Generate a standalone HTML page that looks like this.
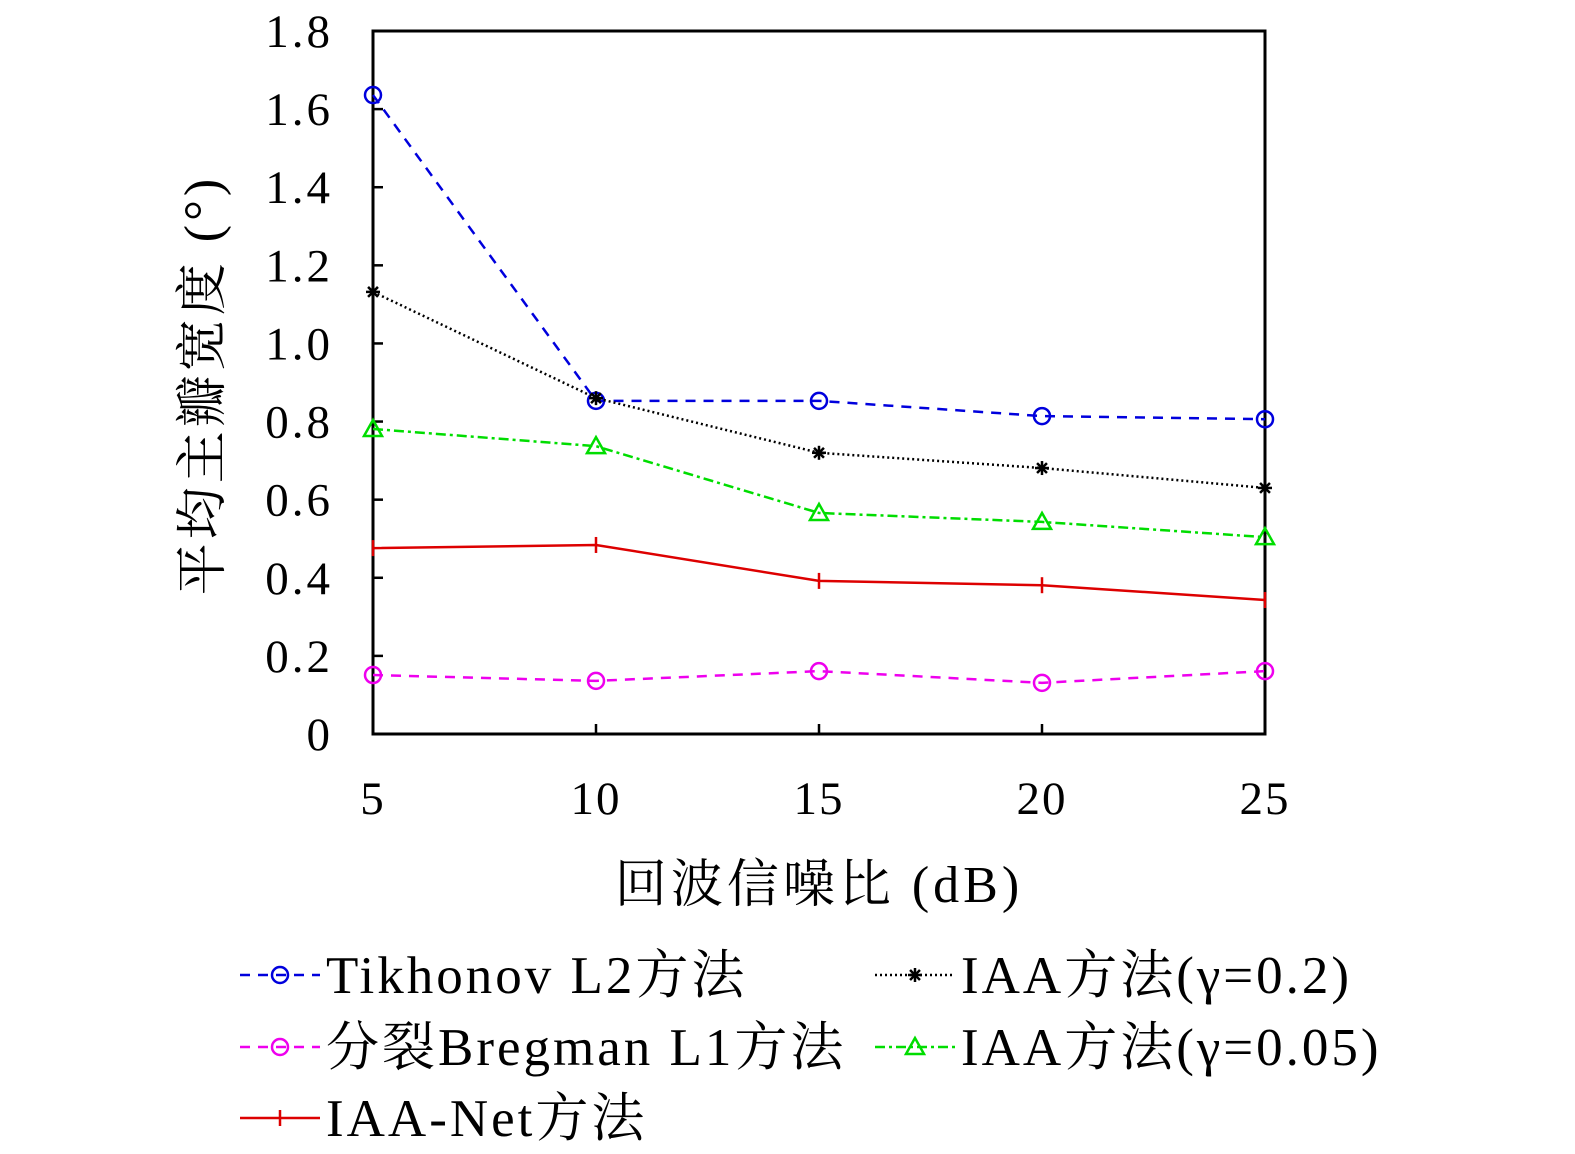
<!DOCTYPE html>
<html><head><meta charset="utf-8"><style>
html,body{margin:0;background:#fff;overflow:hidden;width:1575px;height:1154px}
svg{display:block}
svg text{font-family:"Liberation Serif","Noto Serif CJK SC",serif;fill:#000}
</style></head><body>
<svg id="c" width="1575" height="1154" xmlns="http://www.w3.org/2000/svg"></svg>
<script>
const categories=[5,10,15,20,25];
const yTicks=[0,0.2,0.4,0.6,0.8,1.0,1.2,1.4,1.6,1.8];
const yTickLabels=["0","0.2","0.4","0.6","0.8","1.0","1.2","1.4","1.6","1.8"];
const tikhonov=[1.636,0.853,0.853,0.814,0.806];
const iaa02=[1.132,0.86,0.72,0.681,0.63];
const iaa005=[0.781,0.737,0.566,0.543,0.504];
const iaaNet=[0.476,0.484,0.392,0.381,0.343];
const bregman=[0.151,0.136,0.161,0.131,0.161];
const NS="http://www.w3.org/2000/svg";
const svg=document.getElementById('c');
const X0=373,X1=1265,Y0=734,Y1=31;
const xs=v=>X0+(v-5)/20*(X1-X0);
const ys=v=>Y0-v/1.8*(Y0-Y1);
function mk(t,a,p){const e=document.createElementNS(NS,t);for(const k in a)e.setAttribute(k,a[k]);(p||svg).appendChild(e);return e;}
const box=mk('rect',{x:X0,y:Y1,width:X1-X0,height:Y0-Y1,fill:'none',stroke:'#000','stroke-width':3});


yTicks.forEach((v,i)=>{
 const t=mk('line',{x1:X0,x2:X0+10,y1:ys(v),y2:ys(v),stroke:'#000','stroke-width':2.5});
 
 
 const l=mk('text',{x:333,y:ys(v)+16,'text-anchor':'end','font-size':47,'letter-spacing':3});
 l.textContent=yTickLabels[i];
 
 
});
categories.forEach(v=>{
 const t=mk('line',{x1:xs(v),x2:xs(v),y1:Y0,y2:Y0-10,stroke:'#000','stroke-width':2.5});
 
 
 const l=mk('text',{x:xs(v),y:814,'text-anchor':'middle','font-size':47,'letter-spacing':2});
 l.textContent=String(v);
 
 
});
const xt=mk('text',{x:819,y:902,'text-anchor':'middle','font-size':52,'letter-spacing':4});
xt.textContent='回波信噪比 (dB)';


const yt=mk('text',{x:0,y:0,'text-anchor':'middle','font-size':52,'letter-spacing':4,transform:'translate(220,385) rotate(-90)'});
yt.textContent='平均主瓣宽度 (°)';


function marker(g,type,x,y,color){
 if(type==='o') mk('circle',{cx:x,cy:y,r:8,fill:'none',stroke:color,'stroke-width':2.5},g);
 else if(type==='^') mk('polygon',{points:`${x},${y-9} ${x-9},${y+7} ${x+9},${y+7}`,fill:'none',stroke:color,'stroke-width':2.5},g);
 else if(type==='+'){mk('line',{x1:x,x2:x,y1:y-8,y2:y+8,stroke:color,'stroke-width':2.5},g);}
 else if(type==='*'){for(let a=0;a<180;a+=45){const r=a*Math.PI/180;mk('line',{x1:x-7*Math.cos(r),y1:y-7*Math.sin(r),x2:x+7*Math.cos(r),y2:y+7*Math.sin(r),stroke:color,'stroke-width':2.5},g);}}
}
const series=[
 {name:'tikhonov',vals:tikhonov,color:'#0000dd',dash:'10,8',m:'o',label:'Tikhonov L2方法',lx:240,ly:975},
 {name:'bregman',vals:bregman,color:'#ee00ee',dash:'10,8',m:'o',label:'分裂Bregman L1方法',lx:240,ly:1047},
 {name:'iaa-net',vals:iaaNet,color:'#dd0000',dash:'',m:'+',label:'IAA-Net方法',lx:240,ly:1118},
 {name:'iaa-0.2',vals:iaa02,color:'#000',dash:'2,3',m:'*',label:'IAA方法(γ=0.2)',lx:875,ly:975},
 {name:'iaa-0.05',vals:iaa005,color:'#00dd00',dash:'10,4,3,4',m:'^',label:'IAA方法(γ=0.05)',lx:875,ly:1047}
];
series.forEach(s=>{
 const g=mk('g',{});
 
 
 const pts=s.vals.map((v,i)=>xs(categories[i])+','+ys(v)).join(' ');
 mk('polyline',{points:pts,fill:'none',stroke:s.color,'stroke-width':2.5,'stroke-dasharray':s.dash},g);
 s.vals.forEach((v,i)=>marker(g,s.m,xs(categories[i]),ys(v),s.color));
 const lg=mk('g',{});
 
 
 mk('line',{x1:s.lx,x2:s.lx+80,y1:s.ly,y2:s.ly,stroke:s.color,'stroke-width':2.5,'stroke-dasharray':s.dash},lg);
 marker(lg,s.m,s.lx+40,s.ly,s.color);
 const t=mk('text',{x:s.lx+86,y:s.ly+18,'font-size':53,'letter-spacing':3},lg);
 t.textContent=s.label;
});
</script>
</body></html>
